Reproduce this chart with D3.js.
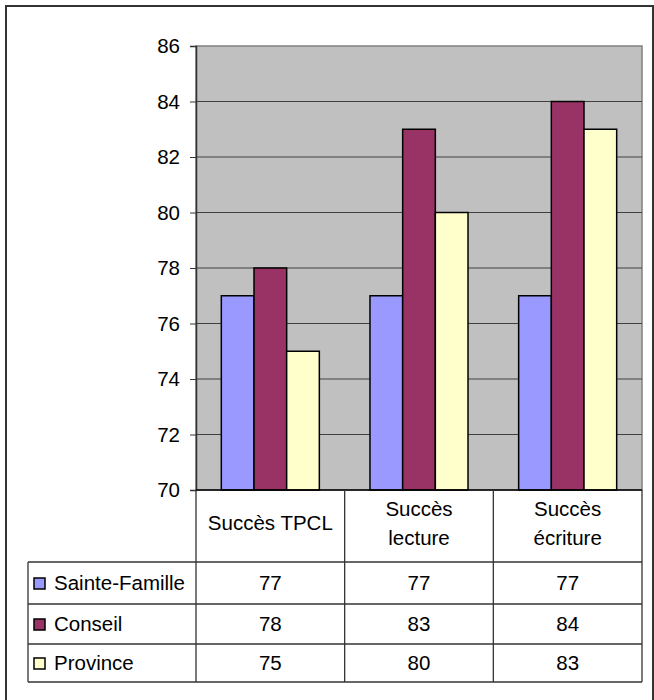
<!DOCTYPE html>
<html>
<head>
<meta charset="utf-8">
<script src="https://cdn.jsdelivr.net/npm/d3@7"></script>
<style>
  body { margin: 0; background: #fff; }
  svg { display: block; font-family: "Liberation Sans", Arial, sans-serif; }
</style>
</head>
<body>
<div id="plot"></div>
<script>
const categories = ["Succès TPCL", "Succès\nlecture", "Succès\nécriture"];
const series = ["Sainte-Famille", "Conseil", "Province"];
const santeFamille = [77, 77, 77];
const conseil = [78, 83, 84];
const province = [75, 80, 83];
const yTicks = [70, 72, 74, 76, 78, 80, 82, 84, 86];
const colors = ["#9999FF", "#993366", "#FFFFCC"];

const values = [santeFamille, conseil, province];

const w = 654;
const h = 700;
const fs = 20.5;
const plot = {left: 196, right: 642, top: 46, bottom: 490};
const table = {left: 28, rows: [562, 604, 644, 682]};

const svg = d3.select("div#plot")
    .append("svg")
    .attr("width", w)
    .attr("height", h);

// outer chart border
svg.append("rect")
    .attr("x", 6)
    .attr("y", 6)
    .attr("width", 647)
    .attr("height", 720)
    .attr("fill", "#fff")
    .attr("stroke", "#333")
    .attr("stroke-width", 2);

const xScale = d3.scaleBand()
    .domain(d3.range(categories.length))
    .range([plot.left, plot.right]);

const subScale = d3.scaleBand()
    .domain(d3.range(series.length))
    .range([0, xScale.bandwidth()])
    .paddingOuter(0.775);

const yScale = d3.scaleLinear()
    .domain([70, 86])
    .range([plot.bottom, plot.top]);

// plot area
svg.append("rect")
    .attr("x", plot.left)
    .attr("y", plot.top)
    .attr("width", plot.right - plot.left)
    .attr("height", plot.bottom - plot.top)
    .attr("fill", "#C0C0C0")
    .attr("stroke", "#808080")
    .attr("stroke-width", 1.5);

// gridlines
svg.append("g")
    .selectAll("line")
    .data(yTicks.slice(1, -1))
    .enter().append("line")
    .attr("x1", plot.left)
    .attr("x2", plot.right)
    .attr("y1", d => yScale(d))
    .attr("y2", d => yScale(d))
    .attr("stroke", "#404040")
    .attr("stroke-width", 1);

// bars
const groups = svg.append("g")
    .selectAll("g")
    .data(values)
    .enter().append("g");

groups.selectAll("rect")
    .data((d, si) => d.map((v, ci) => ({v, ci, si})))
    .enter().append("rect")
    .attr("x", d => xScale(d.ci) + subScale(d.si))
    .attr("y", d => yScale(d.v))
    .attr("width", subScale.bandwidth())
    .attr("height", d => plot.bottom - yScale(d.v))
    .attr("fill", d => colors[d.si])
    .attr("stroke", "#000")
    .attr("stroke-width", 1.5);

// y axis
const yAxis = d3.axisLeft(yScale)
    .tickValues(yTicks)
    .tickSize(6)
    .tickPadding(10)
    .tickFormat(d3.format("d"));

const yg = svg.append("g")
    .attr("transform", `translate(${plot.left},0)`)
    .call(yAxis);
yg.select(".domain").attr("stroke", "#333").attr("stroke-width", 1.5);
yg.selectAll(".tick line").attr("stroke", "#333");
yg.selectAll(".tick text")
    .attr("font-family", "Liberation Sans, Arial, sans-serif")
    .attr("font-size", fs)
    .attr("fill", "#000");

// x axis line
svg.append("line")
    .attr("x1", plot.left)
    .attr("x2", plot.right)
    .attr("y1", plot.bottom)
    .attr("y2", plot.bottom)
    .attr("stroke", "#000")
    .attr("stroke-width", 1.5);

// data table lines
const tg = svg.append("g").attr("stroke", "#333").attr("stroke-width", 1.3);
const colEdges = [plot.left].concat(d3.range(categories.length).map(i => xScale(i) + xScale.bandwidth()));
colEdges.forEach(x => {
  tg.append("line").attr("x1", x).attr("x2", x)
    .attr("y1", plot.bottom).attr("y2", table.rows[3]);
});
tg.append("line").attr("x1", table.left).attr("x2", table.left)
  .attr("y1", table.rows[0]).attr("y2", table.rows[3]);
table.rows.forEach(y => {
  tg.append("line").attr("x1", table.left).attr("x2", plot.right)
    .attr("y1", y).attr("y2", y);
});

// header labels
svg.append("g")
    .selectAll("text")
    .data(categories)
    .enter().append("text")
    .attr("text-anchor", "middle")
    .attr("font-size", fs)
    .attr("fill", "#000")
    .each(function(d, i) {
      const lines = d.split("\n");
      const cx = xScale(i) + xScale.bandwidth() / 2;
      const cy = (plot.bottom + table.rows[0]) / 2 - 3;
      const lh = 29;
      lines.forEach((ln, k) => {
        d3.select(this).append("tspan")
          .attr("x", cx)
          .attr("y", cy + (k - (lines.length - 1) / 2) * lh + 7)
          .text(ln);
      });
    });

// row labels with legend keys
series.forEach((s, si) => {
  const cy = (table.rows[si] + table.rows[si + 1]) / 2;
  svg.append("rect")
    .attr("x", 34)
    .attr("y", cy - 5)
    .attr("width", 11)
    .attr("height", 11)
    .attr("fill", colors[si])
    .attr("stroke", "#000")
    .attr("stroke-width", 1.5);
  svg.append("text")
    .attr("x", 54)
    .attr("y", cy + 7)
    .attr("font-size", fs)
    .attr("fill", "#000")
    .text(s);
  values[si].forEach((v, ci) => {
    svg.append("text")
      .attr("x", xScale(ci) + xScale.bandwidth() / 2)
      .attr("y", cy + 7)
      .attr("text-anchor", "middle")
      .attr("font-size", fs)
      .attr("fill", "#000")
      .text(v);
  });
});
</script>
</body>
</html>
